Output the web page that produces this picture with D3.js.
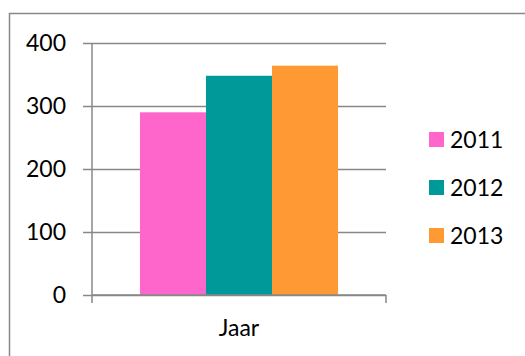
<!DOCTYPE html>
<html>
<head>
<meta charset="utf-8">
<script src="https://cdn.jsdelivr.net/npm/d3@7"></script>
<style>
  html, body { margin: 0; padding: 0; background: #fff; }
  svg { display: block; }
  text { font-family: Lato, "Open Sans", sans-serif; fill: #000; }
</style>
</head>
<body>
<svg id="chart" width="525" height="356"></svg>
<script>
// Chart data
const categories = ["Jaar"];
const seriesNames = ["2011", "2012", "2013"];
const seriesValues = [290, 348, 364];
const seriesColors = ["#ff66cc", "#009999", "#ff9933"];
const yTicks = [0, 100, 200, 300, 400];

const svg = d3.select("#chart");
const gridColor = "#888888";
const fontSize = 23;

// Chart frame (open on the right and bottom edges of the window)
svg.append("path")
  .attr("d", "M9.5,360 V13.5 H530")
  .attr("fill", "none")
  .attr("stroke", gridColor)
  .attr("stroke-width", 1.5);

const plot = { left: 92, right: 386, top: 43, bottom: 295 };

const x = d3.scaleBand()
  .domain(categories)
  .range([plot.left, plot.right]);

const xInner = d3.scaleBand()
  .domain(seriesNames)
  .range([0, x.bandwidth()])
  .paddingOuter(0.727)
  .paddingInner(0);

const y = d3.scaleLinear()
  .domain([0, 400])
  .range([plot.bottom, plot.top]);

// Horizontal gridlines with left tick marks
const yAxis = d3.axisLeft(y)
  .tickValues(yTicks)
  .tickSize(-(plot.right - plot.left))
  .tickSizeOuter(0)
  .tickPadding(26)
  .tickFormat(d3.format("d"));

const gy = svg.append("g")
  .attr("transform", `translate(${plot.left},0)`)
  .call(yAxis);
gy.select(".domain").remove();
gy.selectAll(".tick line")
  .attr("stroke", gridColor)
  .attr("stroke-width", 1.5)
  .attr("x1", -9);
gy.selectAll(".tick text")
  .attr("font-size", fontSize)
  .attr("font-family", "Lato, 'Open Sans', sans-serif");

// Vertical axis line extending slightly below zero
svg.append("line")
  .attr("x1", plot.left).attr("x2", plot.left)
  .attr("y1", plot.top).attr("y2", plot.bottom + 8)
  .attr("stroke", gridColor).attr("stroke-width", 1.5);

// Bars
const bars = svg.append("g");
categories.forEach(cat => {
  bars.selectAll("rect")
    .data(seriesNames.map((s, i) => ({ s, v: seriesValues[i], c: seriesColors[i] })))
    .join("rect")
    .attr("x", d => x(cat) + xInner(d.s))
    .attr("width", xInner.bandwidth())
    .attr("y", d => y(d.v))
    .attr("height", d => y(0) - y(d.v))
    .attr("fill", d => d.c);
});

// Category axis
const xAxis = d3.axisBottom(x).tickSize(0).tickPadding(25);
const gx = svg.append("g")
  .attr("transform", `translate(0,${plot.bottom})`)
  .call(xAxis);
gx.select(".domain").remove();
gx.selectAll(".tick text")
  .attr("font-size", fontSize)
  .attr("font-family", "Lato, 'Open Sans', sans-serif");

svg.append("line")
  .attr("x1", plot.left).attr("x2", plot.right)
  .attr("y1", plot.bottom).attr("y2", plot.bottom)
  .attr("stroke", gridColor).attr("stroke-width", 1.5);
svg.append("line")
  .attr("x1", plot.right).attr("x2", plot.right)
  .attr("y1", plot.bottom).attr("y2", plot.bottom + 8)
  .attr("stroke", gridColor).attr("stroke-width", 1.5);

// Legend
const legend = svg.append("g")
  .selectAll("g")
  .data(seriesNames)
  .join("g")
  .attr("transform", (d, i) => `translate(429,${139.5 + i * 48})`);
legend.append("rect")
  .attr("x", 0).attr("y", -7.5)
  .attr("width", 15).attr("height", 15)
  .attr("fill", (d, i) => seriesColors[i]);
legend.append("text")
  .attr("x", 21)
  .attr("y", 0)
  .attr("dy", "0.36em")
  .attr("font-size", fontSize)
  .text(d => d);
</script>
</body>
</html>
